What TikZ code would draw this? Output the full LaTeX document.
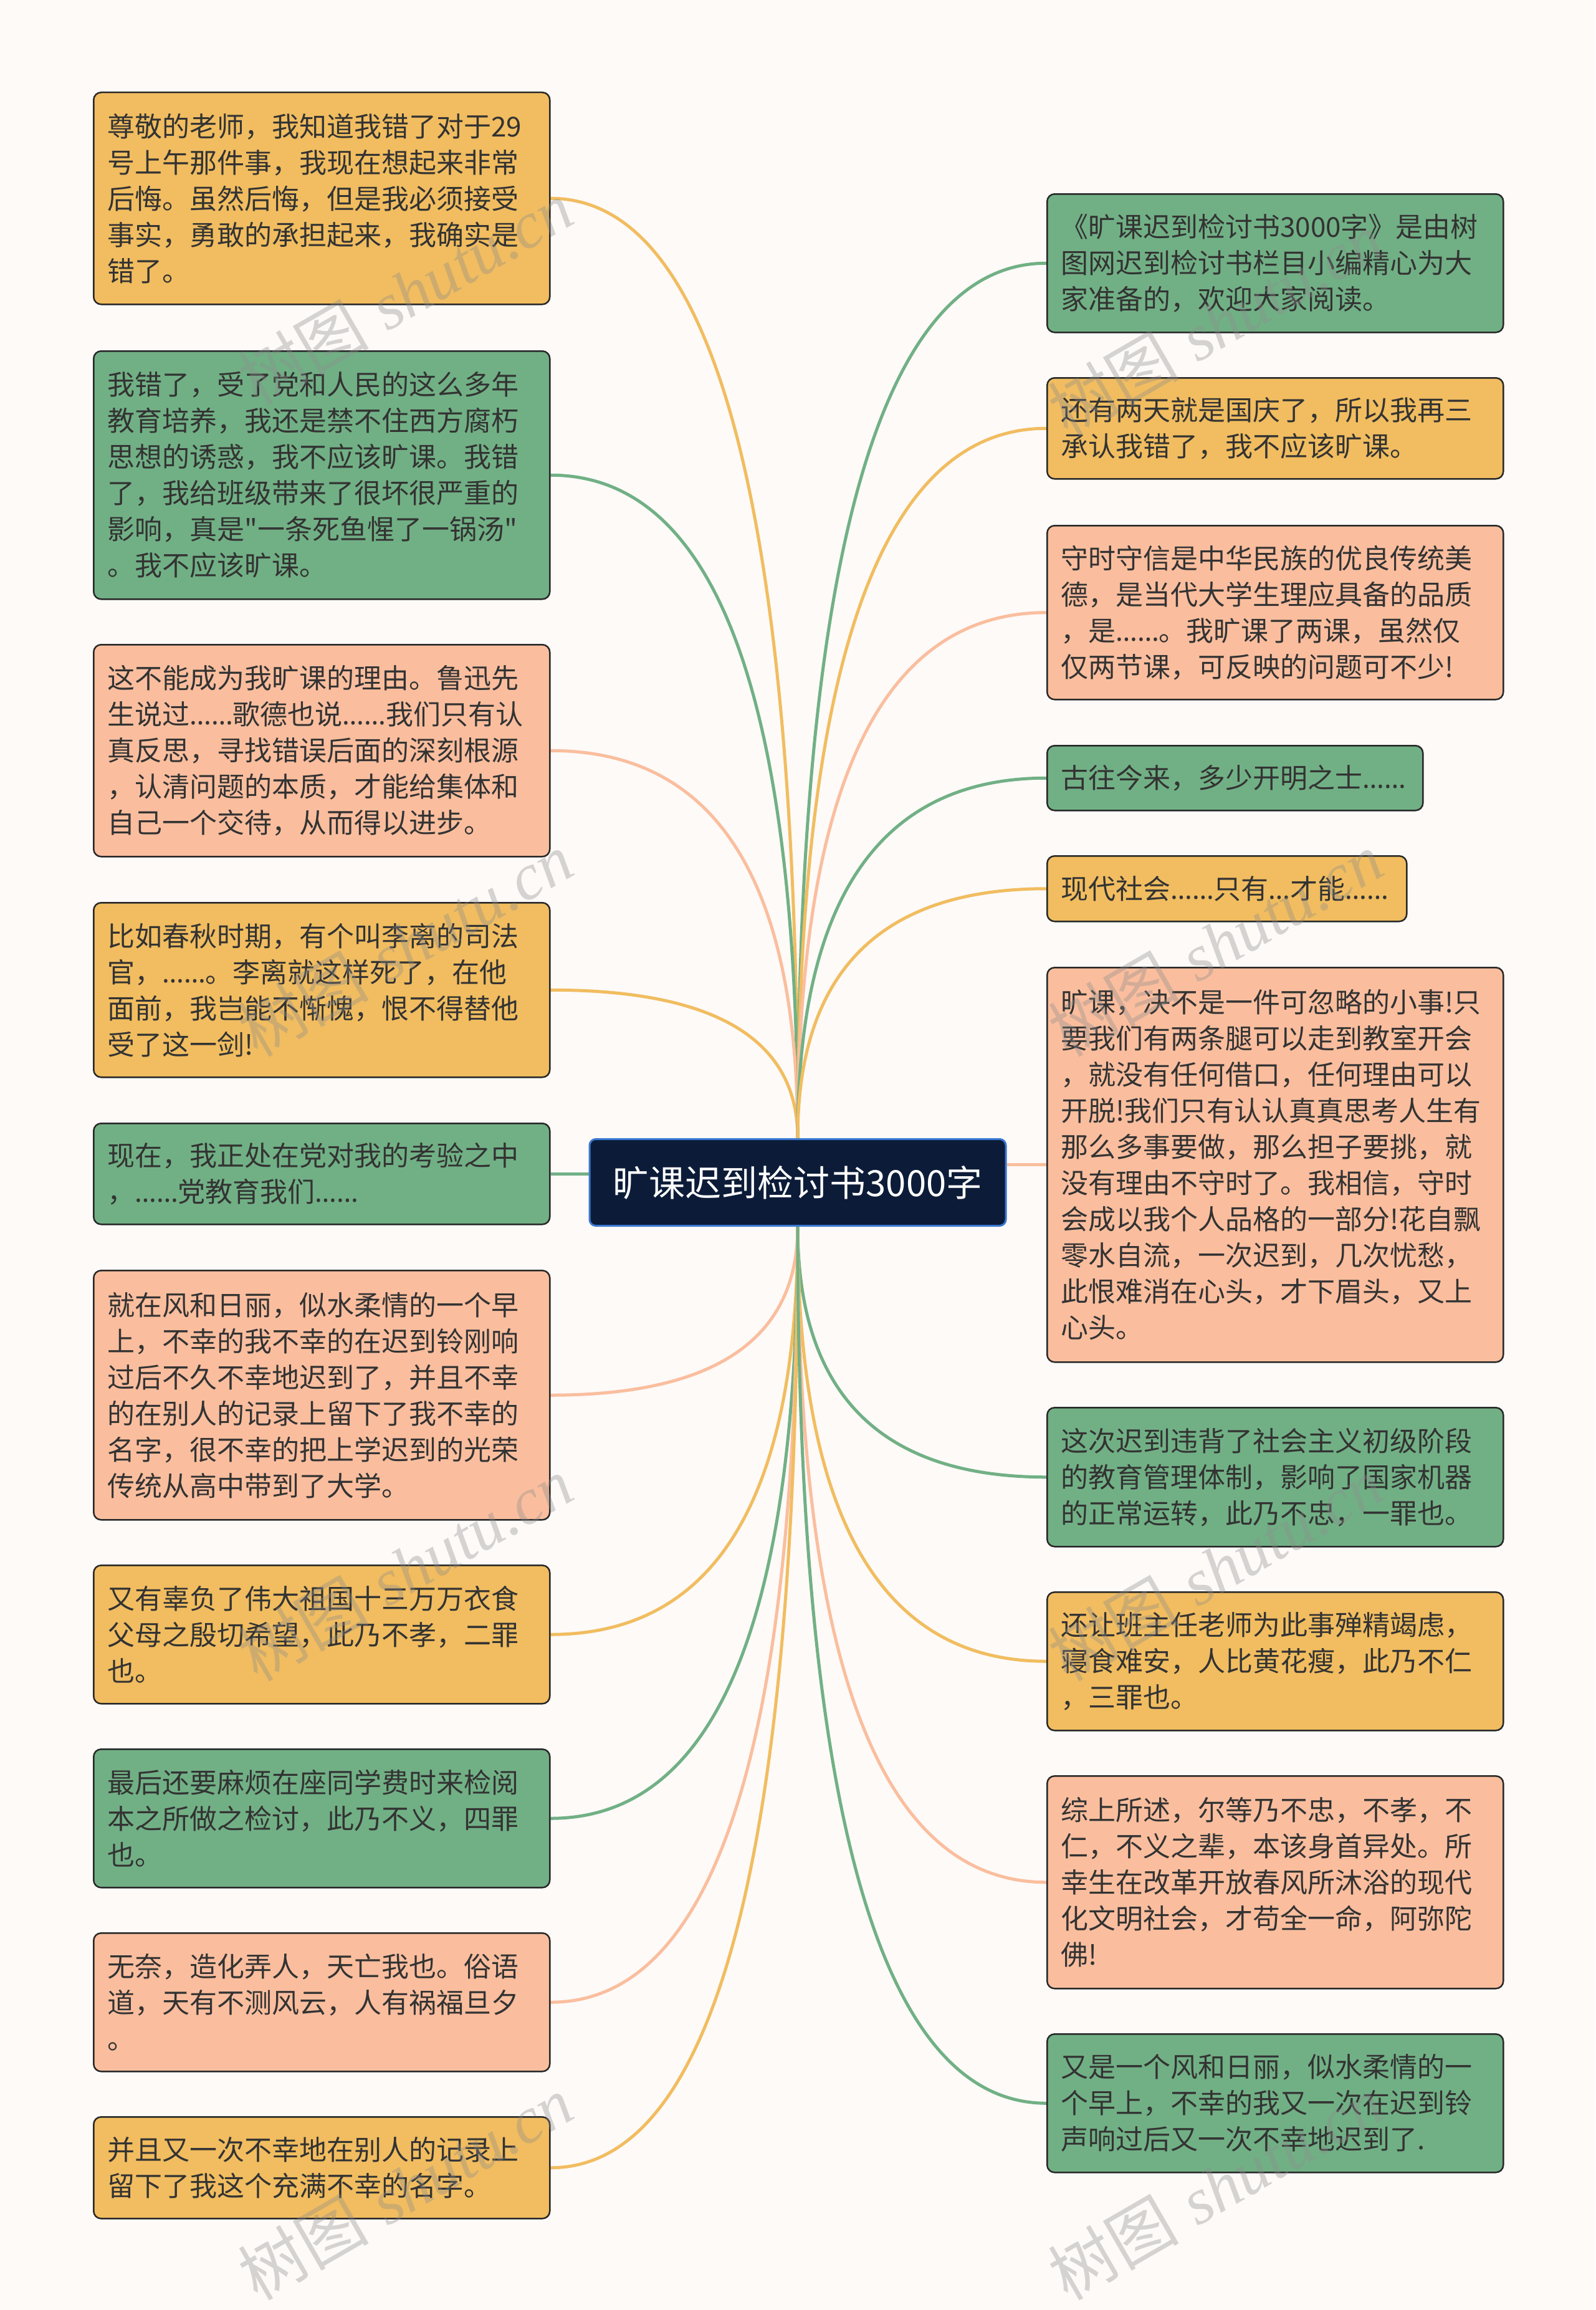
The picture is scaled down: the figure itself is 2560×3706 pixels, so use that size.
\documentclass[tikz,border=0pt]{standalone}
\usepackage{fontspec}
\newfontfamily\cjk{Noto Sans CJK SC}
\newfontfamily\elfont{Noto Sans}
\newfontfamily\wmlatin{Liberation Serif}
\newcommand\el{{\elfont …}}
\usetikzlibrary{calc}
\pgfdeclarelayer{bg}
\pgfsetlayers{bg,main}
\definecolor{bgc}{RGB}{253,250,248}
\definecolor{cor}{RGB}{241,189,96}
\definecolor{cgr}{RGB}{113,176,133}
\definecolor{csa}{RGB}{250,190,158}
\definecolor{bord}{RGB}{40,40,40}
\definecolor{txt}{RGB}{51,51,51}
\definecolor{cfill}{RGB}{12,28,56}
\definecolor{cbord}{RGB}{58,120,210}
\definecolor{wmc}{RGB}{140,140,140}
\tikzset{
  box/.style={draw=bord, line width=2.5pt, rounded corners=12pt, text=txt,
    font=\cjk\fontsize{44}{58}\selectfont, align=left, inner xsep=22pt, inner ysep=0pt,
    text width=688pt, anchor=north west},
  hub/.style={draw=cbord, fill=cfill, line width=3pt, rounded corners=10pt, text=white,
    font=\cjk\fontsize{58}{60}\selectfont, minimum width=668pt, minimum height=139pt, inner sep=0pt},
  link/.style={line width=5pt},
  wm/.style={text=wmc, opacity=0.35, font=\cjk\fontsize{105}{105}\selectfont, rotate=30, inner sep=0pt}
}
\newcommand\curvelink[3]{%
  \coordinate (tmpk) at (#1 -| #2);
  \draw[link,#3] (#1) .. controls ($(#1)!0.667!(tmpk)$) and ($(#2)!0.667!(tmpk)$) .. (#2);}
\begin{document}
\begin{tikzpicture}[x=1pt,y=-1pt]
\useasboundingbox (0,0) rectangle (2560,3706);
% centre
\node[hub] (C) at (1280,1897) {旷课迟到检讨书3000字};
% left
\node[box, fill=cor, minimum height=340pt] (L1) at (149,147) {尊敬的老师，我知道我错了对于29\\号上午那件事，我现在想起来非常\\后悔。虽然后悔，但是我必须接受\\事实，勇敢的承担起来，我确实是\\错了。};
\node[box, fill=cgr, minimum height=398pt] (L2) at (149,562) {我错了，受了党和人民的这么多年\\教育培养，我还是禁不住西方腐朽\\思想的诱惑，我不应该旷课。我错\\了，我给班级带来了很坏很严重的\\影响，真是"一条死鱼惺了一锅汤"\\。我不应该旷课。};
\node[box, fill=csa, minimum height=340pt] (L3) at (149,1033) {这不能成为我旷课的理由。鲁迅先\\生说过\el\el 歌德也说\el\el 我们只有认\\真反思，寻找错误后面的深刻根源\\，认清问题的本质，才能给集体和\\自己一个交待，从而得以进步。};
\node[box, fill=cor, minimum height=280pt] (L4) at (149,1447) {比如春秋时期，有个叫李离的司法\\官，\el\el 。李离就这样死了，在他\\面前，我岂能不惭愧，恨不得替他\\受了这一剑!};
\node[box, fill=cgr, minimum height=162pt] (L5) at (149,1801) {现在，我正处在党对我的考验之中\\，\el\el 党教育我们\el\el};
\node[box, fill=csa, minimum height=400pt] (L6) at (149,2037) {就在风和日丽，似水柔情的一个早\\上，不幸的我不幸的在迟到铃刚响\\过后不久不幸地迟到了，并且不幸\\的在别人的记录上留下了我不幸的\\名字，很不幸的把上学迟到的光荣\\传统从高中带到了大学。};
\node[box, fill=cor, minimum height=222pt] (L7) at (149,2510) {又有辜负了伟大祖国十三万万衣食\\父母之殷切希望，此乃不孝，二罪\\也。};
\node[box, fill=cgr, minimum height=222pt] (L8) at (149,2805) {最后还要麻烦在座同学费时来检阅\\本之所做之检讨，此乃不义，四罪\\也。};
\node[box, fill=csa, minimum height=222pt] (L9) at (149,3100) {无奈，造化弄人，天亡我也。俗语\\道，天有不测风云，人有祸福旦夕\\。};
\node[box, fill=cor, minimum height=163pt] (L10) at (149,3395) {并且又一次不幸地在别人的记录上\\留下了我这个充满不幸的名字。};
% right
\node[box, fill=cgr, minimum height=222pt] (R1) at (1679,310) {《旷课迟到检讨书3000字》是由树\\图网迟到检讨书栏目小编精心为大\\家准备的，欢迎大家阅读。};
\node[box, fill=cor, minimum height=162pt] (R2) at (1679,605) {还有两天就是国庆了，所以我再三\\承认我错了，我不应该旷课。};
\node[box, fill=csa, minimum height=279pt] (R3) at (1679,842) {守时守信是中华民族的优良传统美\\德，是当代大学生理应具备的品质\\，是\el\el 。我旷课了两课，虽然仅\\仅两节课，可反映的问题可不少!};
\node[box, fill=cgr, minimum height=104pt, text width=559pt] (R4) at (1679,1195) {古往今来，多少开明之士\el\el};
\node[box, fill=cor, minimum height=105pt, text width=533pt] (R5) at (1679,1372) {现代社会\el\el 只有\el 才能\el\el};
\node[box, fill=csa, minimum height=633pt] (R6) at (1679,1551) {旷课，决不是一件可忽略的小事!只\\要我们有两条腿可以走到教室开会\\，就没有任何借口，任何理由可以\\开脱!我们只有认认真真思考人生有\\那么多事要做，那么担子要挑，就\\没有理由不守时了。我相信，守时\\会成以我个人品格的一部分!花自飘\\零水自流，一次迟到，几次忧愁，\\此恨难消在心头，才下眉头，又上\\心头。};
\node[box, fill=cgr, minimum height=223pt] (R7) at (1679,2257) {这次迟到违背了社会主义初级阶段\\的教育管理体制，影响了国家机器\\的正常运转，此乃不忠，一罪也。};
\node[box, fill=cor, minimum height=222pt] (R8) at (1679,2553) {还让班主任老师为此事殚精竭虑，\\寝食难安，人比黄花瘦，此乃不仁\\，三罪也。};
\node[box, fill=csa, minimum height=341pt] (R9) at (1679,2848) {综上所述，尔等乃不忠，不孝，不\\仁，不义之辈，本该身首异处。所\\幸生在改革开放春风所沐浴的现代\\化文明社会，才苟全一命，阿弥陀\\佛!};
\node[box, fill=cgr, minimum height=222pt] (R10) at (1679,3262) {又是一个风和日丽，似水柔情的一\\个早上，不幸的我又一次在迟到铃\\声响过后又一次不幸地迟到了.};
% links
\begin{pgfonlayer}{bg}
\fill[bgc] (0,0) rectangle (2560,3706);
\curvelink{L1.east}{C.north}{cor}
\curvelink{L2.east}{C.north}{cgr}
\curvelink{L3.east}{C.north}{csa}
\curvelink{L4.east}{C.north}{cor}
\draw[link,cgr] (L5.east) -- (L5.east -| C.west);
\curvelink{L6.east}{C.south}{csa}
\curvelink{L7.east}{C.south}{cor}
\curvelink{L8.east}{C.south}{cgr}
\curvelink{L9.east}{C.south}{csa}
\curvelink{L10.east}{C.south}{cor}
\curvelink{R1.west}{C.north}{cgr}
\curvelink{R2.west}{C.north}{cor}
\curvelink{R3.west}{C.north}{csa}
\curvelink{R4.west}{C.north}{cgr}
\curvelink{R5.west}{C.north}{cor}
\draw[link,csa] (R6.west) -- (R6.west -| C.east);
\curvelink{R7.west}{C.south}{cgr}
\curvelink{R8.west}{C.south}{cor}
\curvelink{R9.west}{C.south}{csa}
\curvelink{R10.west}{C.south}{cgr}
\end{pgfonlayer}
% watermarks
\node[wm] (w1) at (650,470) {树图\hspace{30pt}{\wmlatin\itshape shutu.cn}};
\node[wm] (w2) at (1950,520) {树图\hspace{30pt}{\wmlatin\itshape shutu.cn}};
\node[wm] (w3) at (650,1515) {树图\hspace{30pt}{\wmlatin\itshape shutu.cn}};
\node[wm] (w4) at (1950,1515) {树图\hspace{30pt}{\wmlatin\itshape shutu.cn}};
\node[wm] (w5) at (650,2517) {树图\hspace{30pt}{\wmlatin\itshape shutu.cn}};
\node[wm] (w6) at (1950,2517) {树图\hspace{30pt}{\wmlatin\itshape shutu.cn}};
\node[wm] (w7) at (650,3510) {树图\hspace{30pt}{\wmlatin\itshape shutu.cn}};
\node[wm] (w8) at (1950,3510) {树图\hspace{30pt}{\wmlatin\itshape shutu.cn}};
\end{tikzpicture}
\end{document}
